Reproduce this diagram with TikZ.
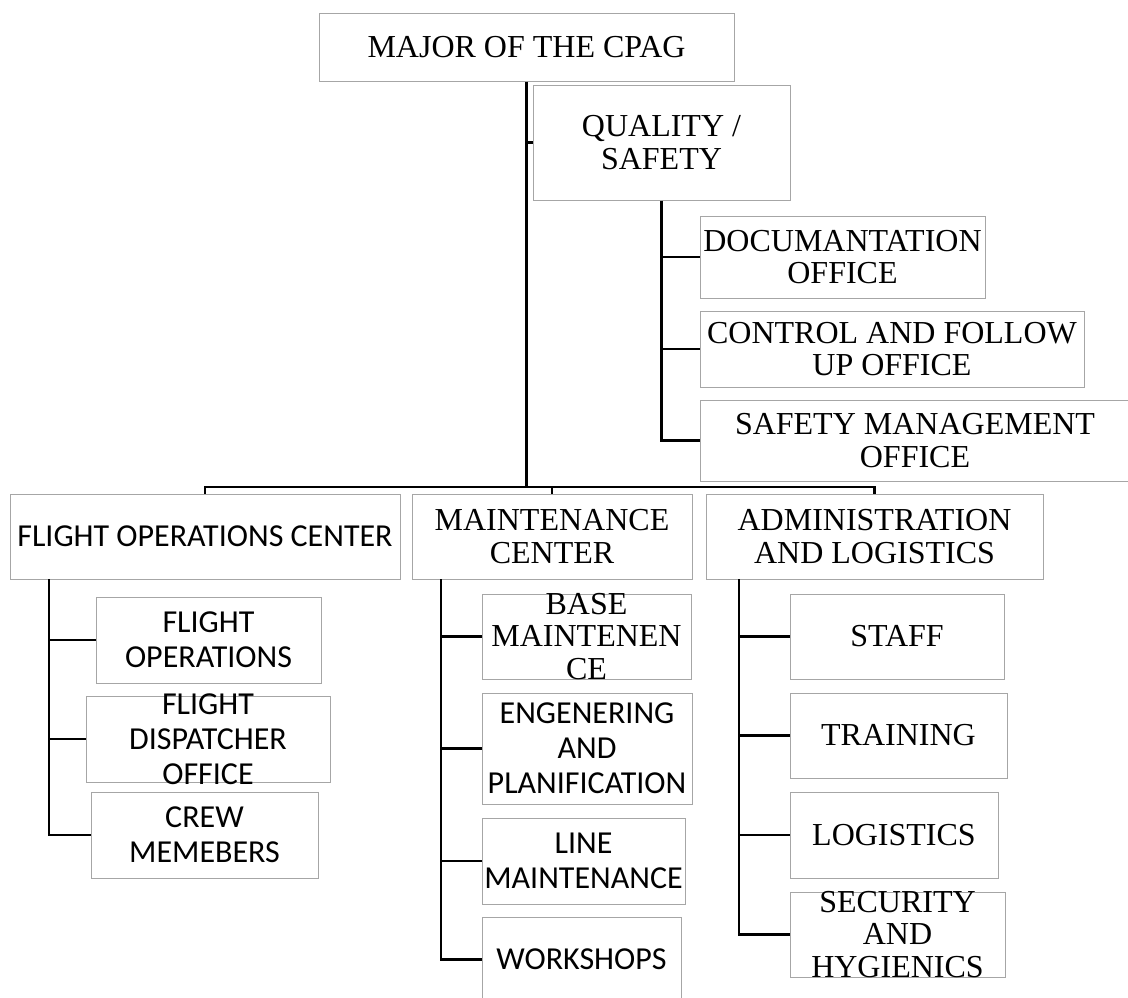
\documentclass[tikz,border=0pt]{standalone}
\usepackage{fontspec}
\setmainfont{Liberation Serif}
\newfontfamily\calib{Carlito}
\begin{document}
\begin{tikzpicture}[x=0.75pt,y=-0.75pt,
  bx/.style n args={2}{draw=gray!70, line width=0.75pt, fill=white, inner sep=0pt,
     minimum width=#1*0.75pt, minimum height=#2*0.75pt, align=center},
  sr/.style={font=\fontsize{24}{24.4}\selectfont, align=center, inner sep=0pt},
  ss/.style={font=\calib\fontsize{24}{26.3}\selectfont, align=center, inner sep=0pt},
  conn/.style={draw=black, line width=1.6pt}]
\useasboundingbox[fill=white] (0,0) rectangle (1128,997);

% top level
\node[bx={415}{68}, sr] (maj) at (526.5,47) {MAJOR OF THE CPAG};
\node[bx={257}{115}, sr] (qs) at (661.5,142.5) {QUALITY /\\SAFETY};
\node[bx={285}{82}, sr] (doc) at (842.5,257) {DOCUMANTATION\\OFFICE};
\node[bx={384}{76}, sr] (ctl) at (892,349) {CONTROL AND FOLLOW\\UP OFFICE};
\node[bx={430}{81}, sr] (smo) at (915,440.5) {SAFETY MANAGEMENT\\OFFICE};

% centers
\node[bx={390}{85}, ss] (foc) at (205,536.5) {FLIGHT OPERATIONS CENTER};
\node[bx={280}{85}, sr] (mc) at (552,536.5) {MAINTENANCE\\CENTER};
\node[bx={337}{85}, sr] (al) at (874.5,536.5) {ADMINISTRATION\\AND LOGISTICS};

% flight operations children
\node[bx={225}{86}, ss] (fo) at (208.5,640) {FLIGHT\\OPERATIONS};
\node[bx={244}{86}] (fd) at (208,739) {};
\node[ss] (fdt) at (fd) {FLIGHT\\DISPATCHER\\OFFICE};
\node[bx={227}{86}, ss] (cm) at (204.5,835) {CREW\\MEMEBERS};

% maintenance children
\node[bx={209}{85}] (bm) at (586.5,636.5) {};
\node[sr] (bmt) at (bm) {BASE\\MAINTENEN\\CE};
\node[bx={210}{111}, ss] (en) at (587,748.5) {ENGENERING\\AND\\PLANIFICATION};
\node[bx={203}{86}, ss] (lm) at (583.5,861) {LINE\\MAINTENANCE};
\node[bx={199}{85}, ss] (ws) at (581.5,959.5) {WORKSHOPS};

% administration children
\node[bx={214}{85}, sr] (st) at (897,636.5) {STAFF};
\node[bx={217}{85}, sr] (tr) at (898.5,735.5) {TRAINING};
\node[bx={208}{86}, sr] (lg) at (894,835) {LOGISTICS};
\node[bx={215}{85}] (sh) at (897.5,934.5) {};
\node[sr] (sht) at (sh) {SECURITY\\AND\\HYGIENICS};

% connector anchors
\coordinate (bar) at (0,487);
\coordinate (focv) at (49,579);
\coordinate (mcv) at (441,579);
\coordinate (alv) at (739,579);

% trunk and quality branch
\draw[conn] (maj.south) -- (maj.south |- bar);
\draw[conn] (maj.south |- qs.west) -- (qs.west);
\draw[conn] (qs.south) |- (smo.west);
\draw[conn] (qs.south |- doc.west) -- (doc.west);
\draw[conn] (qs.south |- ctl.west) -- (ctl.west);

% horizontal bar
\draw[conn] (foc.north) -- (foc.north |- bar) -- (al.north |- bar) -- (al.north);
\draw[conn] (mc.north |- bar) -- (mc.north);

% flight operations branch
\draw[conn] (focv) |- (cm.west);
\draw[conn] (focv |- fo.west) -- (fo.west);
\draw[conn] (focv |- fd.west) -- (fd.west);

% maintenance branch
\draw[conn] (mcv) |- (ws.west);
\draw[conn] (mcv |- bm.west) -- (bm.west);
\draw[conn] (mcv |- en.west) -- (en.west);
\draw[conn] (mcv |- lm.west) -- (lm.west);

% administration branch
\draw[conn] (alv) |- (sh.west);
\draw[conn] (alv |- st.west) -- (st.west);
\draw[conn] (alv |- tr.west) -- (tr.west);
\draw[conn] (alv |- lg.west) -- (lg.west);
\end{tikzpicture}
\end{document}
